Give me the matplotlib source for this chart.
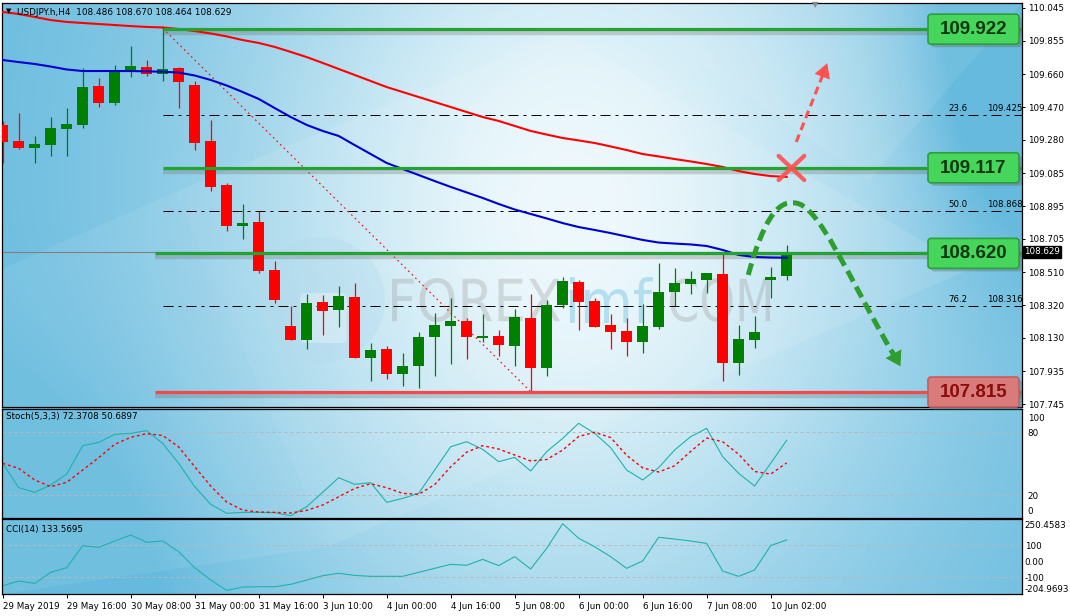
import numpy as np
import matplotlib
matplotlib.use('Agg')
import matplotlib.pyplot as plt
import matplotlib.transforms as mtransforms
from matplotlib.patches import FancyBboxPatch, Circle, PathPatch, Polygon
from matplotlib.textpath import TextPath
from matplotlib.font_manager import FontProperties
from matplotlib.path import Path

# ---- data (USDJPY H4) ----
opens = [109.366, 109.273, 109.234, 109.249, 109.344, 109.367, 109.592, 109.495, 109.675, 109.702,
         109.662, 109.697, 109.598, 109.273, 109.017, 108.781, 108.802, 108.524, 108.198, 108.117,
         108.338, 108.291, 108.367, 108.012, 108.065, 107.918, 107.968, 108.136, 108.200, 108.227,
         108.130, 108.140, 108.084, 108.247, 107.956, 108.320, 108.456, 108.345, 108.204, 108.169,
         108.107, 108.194, 108.398, 108.444, 108.467, 108.500, 107.985, 108.119, 108.467, 108.486]
highs = [109.389, 109.434, 109.302, 109.412, 109.464, 109.695, 109.637, 109.714, 109.824, 109.743,
         109.927, 109.704, 109.621, 109.395, 109.027, 108.907, 108.864, 108.576, 108.314, 108.384,
         108.378, 108.431, 108.446, 108.098, 108.084, 108.042, 108.163, 108.272, 108.359, 108.243,
         108.268, 108.175, 108.297, 108.382, 108.349, 108.483, 108.465, 108.359, 108.268, 108.243,
         108.326, 108.564, 108.535, 108.518, 108.506, 108.615, 108.204, 108.256, 108.541, 108.670]
lows = [109.147, 109.228, 109.147, 109.186, 109.186, 109.350, 109.472, 109.483, 109.646, 109.652,
        109.621, 109.466, 109.220, 108.982, 108.752, 108.705, 108.508, 108.334, 108.117, 108.065,
        108.146, 108.194, 108.012, 107.881, 107.891, 107.852, 107.840, 107.910, 107.979, 108.007,
        108.107, 108.026, 107.968, 107.817, 107.910, 108.301, 108.175, 108.194, 108.067, 108.026,
        108.043, 108.179, 108.314, 108.386, 108.392, 107.881, 107.915, 108.072, 108.361, 108.464]
closes = [109.269, 109.234, 109.255, 109.348, 109.371, 109.586, 109.495, 109.685, 109.708, 109.662,
          109.691, 109.617, 109.263, 109.007, 108.781, 108.795, 108.518, 108.349, 108.117, 108.332,
          108.287, 108.373, 108.012, 108.059, 107.918, 107.966, 108.134, 108.204, 108.227, 108.136,
          108.142, 108.088, 108.251, 107.956, 108.320, 108.460, 108.339, 108.194, 108.165, 108.107,
          108.198, 108.396, 108.448, 108.471, 108.506, 107.985, 108.123, 108.163, 108.483, 108.629]

ma_red = [110.022, 110.010, 109.993, 109.975, 109.964, 109.958, 109.952, 109.946, 109.940, 109.935,
          109.932, 109.923, 109.911, 109.897, 109.880, 109.859, 109.842, 109.819, 109.790, 109.760,
          109.726, 109.691, 109.656, 109.621, 109.586, 109.557, 109.528, 109.499, 109.470, 109.441,
          109.412, 109.389, 109.360, 109.331, 109.310, 109.290, 109.276, 109.261, 109.241, 109.220,
          109.197, 109.183, 109.168, 109.154, 109.139, 109.122, 109.098, 109.081, 109.069, 109.064]
ma_blue = [109.743, 109.731, 109.720, 109.705, 109.688, 109.679, 109.679, 109.679, 109.679, 109.677,
           109.675, 109.670, 109.653, 109.627, 109.595, 109.557, 109.517, 109.464, 109.412, 109.366,
           109.331, 109.302, 109.249, 109.197, 109.145, 109.110, 109.075, 109.040, 109.006, 108.974,
           108.942, 108.907, 108.875, 108.849, 108.823, 108.796, 108.773, 108.756, 108.738, 108.718,
           108.698, 108.683, 108.677, 108.672, 108.663, 108.640, 108.611, 108.599, 108.596, 108.595]

stoch_k = [50.3, 27.0, 22.6, 29.6, 40.0, 67.2, 70.4, 78.1, 79.0, 81.6,
           69.4, 50.3, 28.0, 11.1, 2.5, 3.4, 3.4, 3.1, 0.2, 8.8,
           22.6, 36.6, 30.2, 31.8, 13.0, 16.8, 21.6, 43.9, 66.2, 71.0,
           63.7, 51.9, 56.0, 43.0, 61.5, 74.2, 88.6, 79.0, 65.3, 43.9,
           34.4, 46.2, 63.1, 75.8, 83.8, 56.7, 40.7, 28.6, 50.3, 72.37]
stoch_d = [50.3, 45.5, 34.4, 28.0, 32.1, 43.9, 55.7, 68.5, 75.2, 78.7,
           77.0, 66.0, 47.1, 28.6, 13.3, 5.6, 3.7, 3.4, 2.8, 5.3,
           10.4, 18.3, 26.3, 30.8, 27.0, 21.6, 20.6, 30.0, 47.0, 61.0,
           67.2, 64.0, 58.3, 52.6, 54.0, 63.0, 76.0, 80.0, 75.0, 58.0,
           46.0, 42.0, 48.0, 61.7, 74.5, 71.0, 59.0, 42.5, 40.0, 50.69]
cci = [-154, -123, -138, -69, -40, 98, 87, 127, 164, 119,
       127, 60, -40, -117, -182, -161, -159, -159, -144, -117,
       -90, -75, -88, -94, -94, -94, -69, -44, -19, -25,
       12, -27, 29, -48, 81, 235, 144, 91, 29, -44,
       2, 150, 139, 127, 112, -61, -94, -54, 98, 133.57]

time_labels = ['29 May 2019', '29 May 16:00', '30 May 08:00', '31 May 00:00', '31 May 16:00',
               '3 Jun 10:00', '4 Jun 00:00', '4 Jun 16:00', '5 Jun 08:00', '6 Jun 00:00',
               '6 Jun 16:00', '7 Jun 08:00', '10 Jun 02:00']
price_ticks = [110.045, 109.855, 109.660, 109.470, 109.280, 109.085, 108.895,
               108.705, 108.510, 108.320, 108.130, 107.935, 107.745]
green_levels = [109.922, 109.117, 108.620]
red_level = 107.815
fib_levels = [109.425, 108.868, 108.316]
fib_pcts = ['23.6', '50.0', '76.2']

W, H = 1070, 616
fig = plt.figure(figsize=(W / 100, H / 100), dpi=100)
fig.patch.set_facecolor('white')
ident = mtransforms.IdentityTransform()


def rect(x0, y0, x1, y1):
    # pixel box (top-left origin) -> figure fraction
    return [x0 / W, 1 - y1 / H, (x1 - x0) / W, (y1 - y0) / H]


# ---- background gradient ----
bg = fig.add_axes(rect(2, 3, 1022, 594), zorder=-2)
bg.axis('off')
gx, gy = np.meshgrid(np.linspace(0, 1, 400), np.linspace(0, 1, 240))
light = np.exp(-((gx - 0.56) / 0.36) ** 2 - ((gy - 0.35) / 0.8) ** 2)
light -= 0.55 * np.exp(-((gx - 1.0) / 0.10) ** 2 - ((gy - 0.05) / 0.35) ** 2)
light -= 0.3 * np.exp(-((gx - 0.0) / 0.18) ** 2 - ((gy - 0.95) / 0.3) ** 2)
light = np.clip(light, 0, 1)
dark = np.array([0.40, 0.73, 0.87])
pale = np.array([0.93, 0.975, 0.99])
bg.imshow(dark + (pale - dark) * light[..., None], extent=[0, 1, 0, 1],
          aspect='auto', origin='upper', interpolation='bilinear')
facets = [([(0.0, 0.55), (0.17, 0.68), (0.32, 0.08), (0.0, 0.0)], 0.08),
          ([(0.17, 0.68), (0.55, 0.95), (0.95, 0.55), (0.32, 0.08)], 0.10),
          ([(0.6, 1.0), (1.0, 1.0), (0.85, 0.7)], 0.08)]
for pts, a in facets:
    bg.add_patch(Polygon(pts, closed=True, fc='white', ec='none', alpha=a))
bg.set_xlim(0, 1)
bg.set_ylim(0, 1)

# ---- watermark ----
fig.add_artist(Circle((322, H - 300), 63, transform=ident, fc=(0.70, 0.86, 0.93),
                      ec='none', alpha=0.35, zorder=-1))
fig.add_artist(FancyBboxPatch((300, H - 343), 47, 50, boxstyle='round,pad=0,rounding_size=6',
                              transform=ident, fc='white', ec='none', alpha=0.3, zorder=-1))


def watermark(text, x0, x1, ytop, ybot, color, alpha):
    tp = TextPath((0, 0), text, size=50, prop=FontProperties(family='DejaVu Sans'))
    bb = tp.get_extents()
    tr = (mtransforms.Affine2D().translate(-bb.x0, -bb.y0)
          .scale((x1 - x0) / bb.width, (ybot - ytop) / bb.height).translate(x0, H - ybot))
    fig.add_artist(PathPatch(tp, transform=tr, fc=color, ec='none', alpha=alpha, zorder=-1))


watermark('FOREX', 392, 560, 278, 322, '#9a9a9a', 0.32)
watermark('imf', 570, 653, 277, 323, '#86cde8', 0.55)
watermark('COM', 670, 770, 278, 322, '#9a9a9a', 0.32)

# ---- main price panel ----
ax = fig.add_axes(rect(2, 3, 1022, 407))
ax.set_facecolor('none')
ax.set_xlim(-0.044, 63.71)
ax.set_ylim(107.728, 110.074)
idx = np.arange(len(opens))
o, h, l, c = map(np.array, (opens, highs, lows, closes))
cols = np.where(c >= o, '#008000', '#ff0000')
ax.vlines(idx, l, h, colors=cols, lw=0.9, zorder=3)
ax.bar(idx, np.maximum(np.abs(c - o), 0.006), bottom=np.minimum(o, c), width=0.66,
       color=cols, linewidth=0, zorder=3)

ax.plot(idx, ma_red, color='#ff0000', lw=1.5, zorder=4)
ax.plot(idx, ma_blue, color='#0000cc', lw=1.5, zorder=4)

x_end = 63.71
ax.axhline(closes[-1], color='#808080', lw=0.8, zorder=1)
for lv in fib_levels:
    ax.hlines(lv, 10, x_end, colors='black', lw=0.72, linestyles=(0, (10, 5, 3, 5)), zorder=2)
for lv, pct in zip(fib_levels, fib_pcts):
    ax.text(59.1, lv + 0.008, pct, fontsize=6.2, va='bottom', ha='left', zorder=5)
    ax.text(61.5, lv + 0.008, f'{lv:.3f}', fontsize=6.2, va='bottom', ha='left', zorder=5)

ax.plot([10, 33], [highs[10], lows[33]], color='#ff0000', lw=0.8,
        linestyle=(0, (1.5, 3)), zorder=2)

sh = 4 / 172.2
for lv, x0 in zip(green_levels, [10, 10, 9.5]):
    ax.hlines(lv - sh, x0, x_end, colors='#707070', lw=3.2, alpha=0.3, zorder=2)
    ax.hlines(lv, x0, x_end, colors='#24a332', lw=2.3, zorder=4)
ax.hlines(red_level - sh, 9.5, x_end, colors='#707070', lw=3.2, alpha=0.3, zorder=2)
ax.hlines(red_level, 9.5, x_end, colors='#f04a4a', lw=2.3, zorder=4)

# annotation: rising scenario (red) and falling scenario (green)
ax.plot([48.5, 50.1], [109.186, 109.046], color='#ff5050', lw=3.1, alpha=0.9,
        solid_capstyle='round', zorder=6)
ax.plot([48.5, 50.1], [109.046, 109.186], color='#ff5050', lw=3.1, alpha=0.9,
        solid_capstyle='round', zorder=6)
ax.plot([49.6, 51.38], [109.267, 109.685], color='#ff5050', lw=2.2,
        linestyle=(0, (2.6, 1.6)), zorder=6)
ax.annotate('', xy=(51.6, 109.74), xytext=(51.38, 109.685),
            arrowprops=dict(arrowstyle='-|>,head_length=0.8,head_width=0.45',
                            color='#ff5050', lw=0, mutation_scale=13), zorder=6)
curve = Path([(46.6, 108.495), (47.5, 108.80), (48.4, 108.93), (49.5, 108.913),
              (51.0, 108.91), (52.9, 108.47), (55.7, 108.03)],
             [Path.MOVETO, Path.CURVE4, Path.CURVE4, Path.CURVE4,
              Path.CURVE4, Path.CURVE4, Path.CURVE4])
ax.add_patch(PathPatch(curve, fill=False, ec='#2e9e2e', lw=3.6,
                       linestyle=(0, (2.4, 1.2)), zorder=6))
ax.annotate('', xy=(56.2, 107.95), xytext=(55.75, 108.025),
            arrowprops=dict(arrowstyle='-|>,head_length=0.8,head_width=0.5',
                            color='#2e9e2e', lw=0, mutation_scale=13), zorder=6)

ax.yaxis.tick_right()
ax.set_yticks(price_ticks)
ax.set_yticklabels([f'{t:.3f}' for t in price_ticks])
ax.tick_params(axis='y', length=2.5, width=0.7, pad=1.5, labelsize=6.3)
ax.set_xticks([])
for s in ax.spines.values():
    s.set_linewidth(0.9)
blend = mtransforms.blended_transform_factory(ax.transAxes, ax.transData)
ax.text(1.002, closes[-1], f'{closes[-1]:.3f}', transform=blend, fontsize=6.3, color='white',
        va='center', ha='left', clip_on=False, zorder=10,
        bbox=dict(boxstyle='square,pad=0.15', fc='black', ec='black'))

fig.text(17 / W, 1 - 12.5 / H, 'USDJPY.h,H4  108.486 108.670 108.464 108.629',
         fontsize=6.4, va='center', ha='left')
fig.text(6 / W, 1 - 11.5 / H, '▼', fontsize=5, va='center', ha='left')
fig.text(815 / W, 1 - 5 / H, '▼', fontsize=6, va='center', ha='center', color='#8a8a8a')


def level_box(level, label, fc, ec, tc):
    y = ax.transData.transform((0, level))[1]
    fig.add_artist(FancyBboxPatch((931, y - 18), 91, 30, boxstyle='round,pad=0,rounding_size=3',
                                  transform=ident, fc='#606060', ec='none', alpha=0.35, zorder=5))
    fig.add_artist(FancyBboxPatch((928, y - 15), 91, 30, boxstyle='round,pad=0,rounding_size=3',
                                  transform=ident, fc=fc, ec=ec, lw=1.2, zorder=6))
    fig.text(973.5, y - 0.5, label, transform=ident, ha='center', va='center', fontsize=13.5,
             fontweight='bold', family='Liberation Sans', color=tc, zorder=7)


for lv in green_levels:
    level_box(lv, f'{lv:.3f}', '#46d65b', '#2c9f3c', '#123812')
level_box(red_level, f'{red_level:.3f}', '#d97b7b', '#c25e5e', '#8a0c0c')

# ---- stochastic panel ----
st = fig.add_axes(rect(2, 409, 1022, 518))
st.set_facecolor('none')
st.set_xlim(-0.044, 63.71)
st.set_ylim(-2.0, 102.3)
st.axhline(80, color='#b8b8b8', lw=0.72, linestyle=(0, (3, 3)))
st.axhline(20, color='#b8b8b8', lw=0.72, linestyle=(0, (3, 3)))
st.plot(idx, stoch_k, color='#20b2aa', lw=0.8)
st.plot(idx, stoch_d, color='#ff0000', lw=1.0, linestyle=(0, (2, 2)))
st.yaxis.tick_right()
st.set_yticks([94.6, 80, 20, 5.6])
st.set_yticklabels(['100', '80', '20', '0'])
st.tick_params(axis='y', length=0, pad=4, labelsize=6.3)
st.set_xticks([])
st.text(0.004, 0.93, 'Stoch(5,3,3) 72.3708 50.6897', transform=st.transAxes,
        fontsize=6.3, va='center', ha='left')

# ---- CCI panel ----
cc = fig.add_axes(rect(2, 519, 1022, 594))
cc.set_facecolor('none')
cc.set_xlim(-0.044, 63.71)
cc.set_ylim(-204.4, 264.4)
cc.axhline(100, color='#b8b8b8', lw=0.72, linestyle=(0, (3, 3)))
cc.axhline(-100, color='#b8b8b8', lw=0.72, linestyle=(0, (3, 3)))
cc.plot(idx, cci, color='#20b2aa', lw=0.8)
cc.yaxis.tick_right()
cc.set_yticks([227, 100, 0, -100, -173])
cc.set_yticklabels(['250.4583', '100', '0.00', '-100', '-204.9693'])
cc.tick_params(axis='y', length=0, pad=2, labelsize=6.3)
cc.set_xticks(np.arange(0, 49, 4))
cc.set_xticklabels(time_labels)
cc.tick_params(axis='x', length=3, width=0.7, pad=3, labelsize=6.3)
plt.setp(cc.get_xticklabels(), ha='left')
cc.text(0.004, 0.86, 'CCI(14) 133.5695', transform=cc.transAxes,
        fontsize=6.3, va='center', ha='left')

for a in (st, cc):
    for s in a.spines.values():
        s.set_linewidth(0.9)

fig.savefig('out.png', dpi=100)
